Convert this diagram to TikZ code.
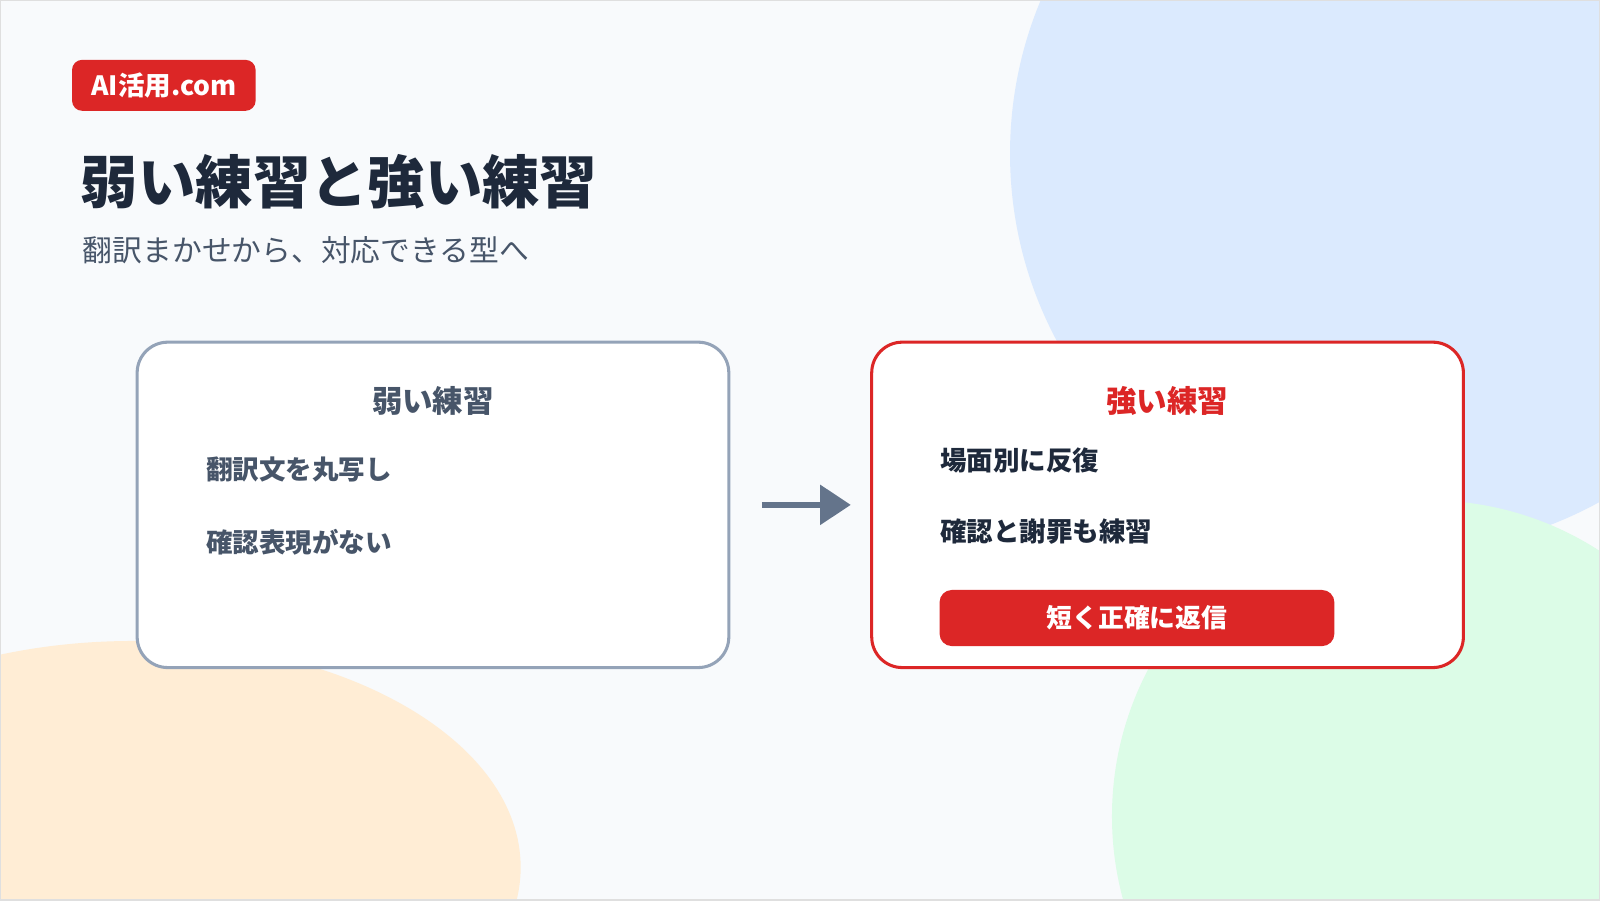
\documentclass[tikz,border=0pt]{standalone}
\usepackage{fontspec}
\setmainfont{Noto Sans CJK JP}
\usetikzlibrary{positioning,arrows.meta}
\definecolor{bgc}{HTML}{F8FAFC}
\definecolor{blueblob}{HTML}{DBEAFE}
\definecolor{greenblob}{HTML}{DCFCE7}
\definecolor{orangeblob}{HTML}{FFEDD5}
\definecolor{redc}{HTML}{DC2626}
\definecolor{darkc}{HTML}{1E293B}
\definecolor{grayc}{HTML}{475569}
\definecolor{linec}{HTML}{94A3B8}
\definecolor{arrowc}{HTML}{64748B}
\tikzset{
  card/.style={draw,line width=0.85pt,fill=white,rounded corners=0.3cm,minimum width=5.8cm,minimum height=3.19cm},
  head/.style={font=\bfseries\fontsize{8.5}{10}\selectfont},
  item/.style={font=\bfseries\fontsize{7.4}{9}\selectfont,anchor=west},
}
\begin{document}
\begin{tikzpicture}[x=0.01cm,y=-0.01cm]
	  \fill[bgc] (0,0) rectangle (1568,882);
	  \begin{scope}
	    \clip (0,0) rectangle (1568,882);
	    \fill[blueblob] (1380,150) circle (390);
	    \fill[greenblob] (1400,800) circle (310);
	    \fill[orangeblob] (130,850) ellipse (380 and 222);
	  \end{scope}
	  \draw[gray!25,line width=0.4pt] (0,0) rectangle (1568,882);

	  \node[fill=redc,text=white,rounded corners=0.1cm,minimum width=1.8cm,minimum height=0.5cm,font=\bfseries\fontsize{7.4}{9}\selectfont] (badge) at (160,83) {AI活用.com};
	  \node[anchor=west,text=darkc,font=\bfseries\fontsize{16}{19}\selectfont,inner sep=0pt] (title) at (78,178) {弱い練習と強い練習};
	  \node[anchor=west,text=grayc,font=\fontsize{8.3}{10}\selectfont,inner sep=0pt] (subtitle) at (80,245) {翻訳まかせから、対応できる型へ};

	  \node[card,draw=linec] (weak) at (424,494.5) {};
	  \node[card,draw=redc] (strong) at (1144.5,494.5) {};

	  \node[head,text=grayc] (weakhead) at (424,393) {弱い練習};
	  \node[item,text=grayc] (weak1) at (189,460) {翻訳文を丸写し};
	  \node[item,text=grayc] (weak2) at (189,531) {確認表現がない};

	  \node[head,text=redc] (stronghead) at (1144,393) {強い練習};
	  \node[item,text=darkc] (strong1) at (909,451) {場面別に反復};
	  \node[item,text=darkc] (strong2) at (909,521) {確認と謝罪も練習};
	  \node[fill=redc,text=white,rounded corners=0.12cm,minimum width=3.87cm,minimum height=0.55cm,font=\bfseries\fontsize{7.2}{9}\selectfont] (reply) at (1114.5,605.5) {短く正確に返信};

	  \draw[arrowc,line width=1.7pt,-{Triangle[length=0.3cm,width=0.38cm]},shorten <=0.31cm,shorten >=0.19cm] (weak) -- (strong);
	\end{tikzpicture}
\end{document}
